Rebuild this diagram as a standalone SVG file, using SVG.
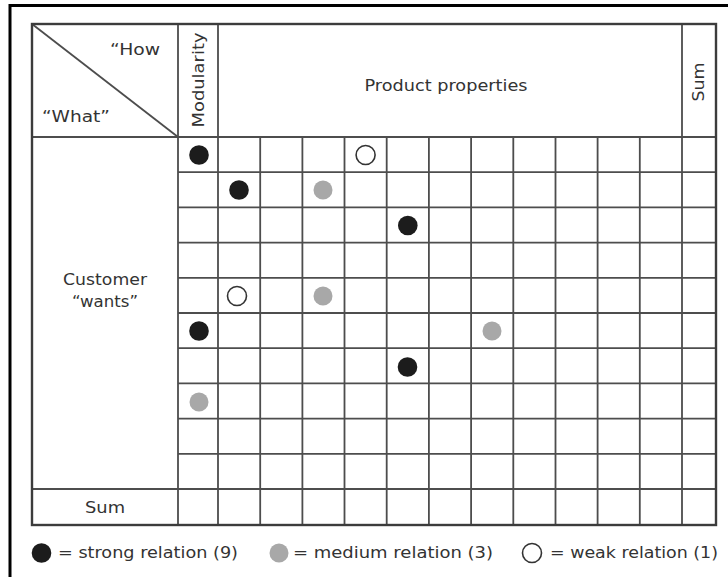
<svg xmlns="http://www.w3.org/2000/svg" width="728" height="577" viewBox="0 0 728 577">
  <defs>
    <style>
      .frame { fill: none; stroke: #000; stroke-width: 3; }
      .border { fill: none; stroke: #3c3c3c; stroke-width: 2.4; }
      .grid { stroke: #4d4d4d; stroke-width: 1.8; fill: none; }
      .lbl { font-family: "DejaVu Sans", "Liberation Sans", sans-serif; font-size: 15px; fill: #333; }
      .mid { text-anchor: middle; }
      .strong { fill: #1c1c1c; }
      .medium { fill: #a8a8a8; }
      .weak { fill: #fff; stroke: #333; stroke-width: 1.6; }
    </style>
  </defs>
  <rect width="728" height="577" fill="#fff"/>
  <!-- page frame: open to the right and bottom -->
  <path class="frame" d="M10 577 V5.5 H728"/>

  <!-- matrix lines -->
  <g id="connectors">
    <!-- full-height verticals -->
    <path class="grid" d="M178 24 V525 M218 24 V525 M682 24 V525"/>
    <!-- property column separators -->
    <path class="grid" d="M260.2 137 V525 M302.4 137 V525 M344.5 137 V525 M386.7 137 V525 M428.9 137 V525 M471.1 137 V525 M513.3 137 V525 M555.5 137 V525 M597.6 137 V525 M639.8 137 V525"/>
    <!-- header bottom and sum row -->
    <path class="grid" d="M32 137 H716 M32 489 H716"/>
    <!-- row separators -->
    <path class="grid" d="M178 172.2 H716 M178 207.4 H716 M178 242.6 H716 M178 277.8 H716 M178 313 H716 M178 348.2 H716 M178 383.4 H716 M178 418.6 H716 M178 453.8 H716"/>
    <!-- corner diagonal -->
    <path class="grid" d="M32 24 L178 137"/>
    <rect class="border" x="32" y="24" width="684" height="501"/>
  </g>

  <!-- header cells -->
  <g id="corner">
    <text class="lbl" x="110" y="55" textLength="50" lengthAdjust="spacingAndGlyphs">“How</text>
    <text class="lbl" x="42" y="122" textLength="68" lengthAdjust="spacingAndGlyphs">“What”</text>
  </g>
  <g id="modularity">
    <text class="lbl mid" transform="translate(204 80) rotate(-90)" textLength="95" lengthAdjust="spacingAndGlyphs">Modularity</text>
  </g>
  <g id="product-properties">
    <text class="lbl mid" x="446" y="91" textLength="163" lengthAdjust="spacingAndGlyphs">Product properties</text>
  </g>
  <g id="sum-column">
    <text class="lbl mid" transform="translate(704 82) rotate(-90)" textLength="39" lengthAdjust="spacingAndGlyphs">Sum</text>
  </g>
  <g id="customer-wants">
    <text class="lbl mid" x="105" y="285" textLength="84" lengthAdjust="spacingAndGlyphs">Customer</text>
    <text class="lbl mid" x="105" y="307" textLength="66" lengthAdjust="spacingAndGlyphs">“wants”</text>
  </g>
  <g id="sum-row">
    <text class="lbl mid" x="105" y="513" textLength="40" lengthAdjust="spacingAndGlyphs">Sum</text>
  </g>

  <!-- relation marks -->
  <g id="relations">
    <circle class="strong" cx="199" cy="155" r="9.8"/>
    <circle class="weak" cx="365.6" cy="155" r="9.5"/>
    <circle class="strong" cx="239" cy="190" r="9.8"/>
    <circle class="medium" cx="323" cy="190" r="9.5"/>
    <circle class="strong" cx="407.8" cy="225.5" r="9.8"/>
    <circle class="weak" cx="237" cy="296" r="9.5"/>
    <circle class="medium" cx="323" cy="296" r="9.5"/>
    <circle class="strong" cx="199" cy="331" r="9.8"/>
    <circle class="medium" cx="492" cy="331" r="9.5"/>
    <circle class="strong" cx="407.5" cy="367" r="9.8"/>
    <circle class="medium" cx="199" cy="402" r="9.5"/>
  </g>

  <!-- legend -->
  <g id="legend">
    <circle class="strong" cx="41.5" cy="553" r="9.8"/>
    <text class="lbl" x="58" y="558" textLength="180" lengthAdjust="spacingAndGlyphs">= strong relation (9)</text>
    <circle class="medium" cx="279" cy="553" r="9.5"/>
    <text class="lbl" x="293" y="558" textLength="200" lengthAdjust="spacingAndGlyphs">= medium relation (3)</text>
    <circle class="weak" cx="532" cy="553" r="9.5"/>
    <text class="lbl" x="550" y="558" textLength="168" lengthAdjust="spacingAndGlyphs">= weak relation (1)</text>
  </g>
</svg>
